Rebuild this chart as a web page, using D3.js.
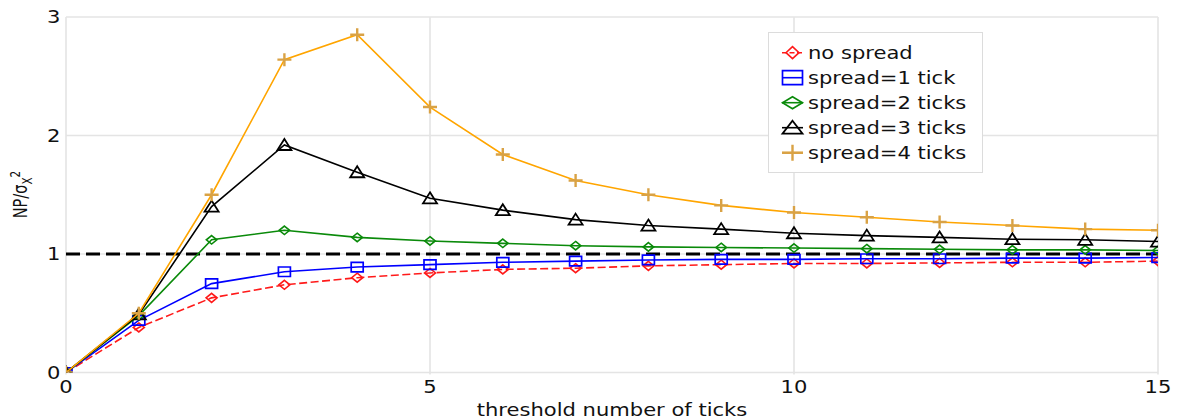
<!DOCTYPE html>
<html>
<head>
<meta charset="utf-8">
<script src="https://cdn.jsdelivr.net/npm/d3@7"></script>
<style>
  html, body { margin: 0; padding: 0; background: #fff; }
  svg { display: block; }
  text { font-family: "DejaVu Sans", Verdana, sans-serif; fill: #111; }
</style>
</head>
<body>
<svg id="chart" width="1184" height="419"></svg>
<script>
// threshold values on the x axis
const thresholds = [0, 1, 2, 3, 4, 5, 6, 7, 8, 9, 10, 11, 12, 13, 14, 15];

// NP / sigma_X^2 for each spread setting
const noSpread = [0, 0.38, 0.63, 0.74, 0.80, 0.84, 0.87, 0.88, 0.90, 0.91, 0.92, 0.92, 0.925, 0.93, 0.93, 0.94];
const spread1  = [0, 0.44, 0.75, 0.85, 0.89, 0.91, 0.93, 0.94, 0.95, 0.955, 0.955, 0.96, 0.96, 0.965, 0.965, 0.97];
const spread2  = [0, 0.48, 1.12, 1.20, 1.14, 1.11, 1.09, 1.07, 1.06, 1.055, 1.05, 1.045, 1.04, 1.035, 1.035, 1.03];
const spread3  = [0, 0.49, 1.40, 1.92, 1.69, 1.47, 1.37, 1.29, 1.24, 1.21, 1.175, 1.155, 1.14, 1.125, 1.12, 1.105];
const spread4  = [0, 0.50, 1.50, 2.64, 2.85, 2.24, 1.84, 1.62, 1.50, 1.41, 1.35, 1.31, 1.27, 1.24, 1.21, 1.20];

const seriesNames = ["no spread", "spread=1 tick", "spread=2 ticks", "spread=3 ticks", "spread=4 ticks"];
const referenceLevel = 1;

const xTicks = [0, 5, 10, 15];
const yTicks = [0, 1, 2, 3];
const xTitle = "threshold number of ticks";

// ---- styling ----
const styles = [
  { line: "#ff1a1a", marker: "#ff1a1a", dash: "8,3.5", shape: "diamond", w: 11, h: 9,  lw: 1.6, mw: 1.6,
    legend: { w: 13, h: 12 } },
  { line: "#0000ff", marker: "#0000ff", dash: null, shape: "square", w: 12, h: 9.5, lw: 1.6, mw: 1.7,
    legend: { w: 20, h: 14 } },
  { line: "#0a8a0a", marker: "#0a8a0a", dash: null, shape: "diamond", w: 10.5, h: 8.5, lw: 1.6, mw: 1.6,
    legend: { w: 20, h: 12 } },
  { line: "#000000", marker: "#000000", dash: null, shape: "triangle", w: 14, h: 10, lw: 1.6, mw: 1.8,
    legend: { w: 20, h: 12 } },
  { line: "#ffa500", marker: "#d9a245", dash: null, shape: "plus", w: 14, h: 13, lw: 1.6, mw: 2.4,
    legend: { w: 21, h: 16 } }
];
const seriesValues = [noSpread, spread1, spread2, spread3, spread4];

const TEXT_STRETCH = 1.24;   // glyphs are drawn horizontally widened
const FONT = 17;

const svg = d3.select("#chart");
const plot = { left: 66, right: 1158, top: 17, bottom: 372.5 };

const x = d3.scaleLinear().domain([0, 15]).range([plot.left, plot.right]);
const y = d3.scaleLinear().domain([0, 3]).range([plot.bottom, plot.top]);

function markerPath(shape, w, h) {
  const p = d3.path(), a = w / 2, b = h / 2;
  if (shape === "diamond") {
    p.moveTo(0, -b); p.lineTo(a, 0); p.lineTo(0, b); p.lineTo(-a, 0); p.closePath();
  } else if (shape === "square") {
    p.rect(-a, -b, w, h);
  } else if (shape === "triangle") {
    p.moveTo(0, -b - 1); p.lineTo(a, b); p.lineTo(-a, b); p.closePath();
  } else if (shape === "plus") {
    p.moveTo(-a, 0); p.lineTo(a, 0); p.moveTo(0, -b); p.lineTo(0, b);
  }
  return p.toString();
}

function stretchedText(parent, px, py, str, anchor, size) {
  return parent.append("text")
    .attr("transform", `translate(${px},${py}) scale(${TEXT_STRETCH},1)`)
    .attr("text-anchor", anchor)
    .attr("font-size", size)
    .text(str);
}

// ---- grid ----
const grid = svg.append("g").attr("stroke", "#e4e4e4").attr("stroke-width", 1.6);
grid.selectAll("line.gx").data(xTicks).join("line")
  .attr("x1", d => x(d)).attr("x2", d => x(d))
  .attr("y1", plot.top).attr("y2", plot.bottom + 2);
grid.selectAll("line.gy").data(yTicks).join("line")
  .attr("x1", plot.left).attr("x2", plot.right)
  .attr("y1", d => y(d)).attr("y2", d => y(d))
  .attr("stroke-width", 1.3);

// ---- tick labels ----
const xLab = svg.append("g");
xTicks.forEach(t => stretchedText(xLab, x(t), 393, String(t), "middle", FONT));
const yLab = svg.append("g");
yTicks.forEach(t => stretchedText(yLab, 60.5, y(t), String(t), "end", FONT).attr("dy", "0.36em"));

// ---- axis titles ----
stretchedText(svg, (plot.left + plot.right) / 2, 416, xTitle, "middle", FONT);

const yTitle = svg.append("text")
  .attr("transform", `translate(27,194.5) rotate(-90) scale(1,1.32)`)
  .attr("text-anchor", "middle")
  .attr("font-size", 14.5);
yTitle.append("tspan").text("NP/σ");
yTitle.append("tspan").attr("font-size", 10.5).attr("dy", 3.6).text("X");
yTitle.append("tspan").attr("font-size", 10.5).attr("dy", -9).text("2");

// ---- data area ----
svg.append("clipPath").attr("id", "plotClip").append("rect")
  .attr("x", plot.left).attr("y", plot.top)
  .attr("width", plot.right - plot.left).attr("height", plot.bottom - plot.top);
const area = svg.append("g").attr("clip-path", "url(#plotClip)");

// reference level
area.append("line")
  .attr("x1", x(0)).attr("x2", x(15))
  .attr("y1", y(referenceLevel)).attr("y2", y(referenceLevel))
  .attr("stroke", "#000").attr("stroke-width", 3).attr("stroke-dasharray", "14,6");

const lineGen = d3.line().x(d => x(d[0])).y(d => y(d[1]));

seriesValues.forEach((vals, i) => {
  const st = styles[i];
  const pts = thresholds.map((t, k) => [t, vals[k]]);
  const g = area.append("g");
  g.append("path").datum(pts)
    .attr("d", lineGen)
    .attr("fill", "none")
    .attr("stroke", st.line)
    .attr("stroke-width", st.lw)
    .attr("stroke-dasharray", st.dash);
  g.selectAll("path.m").data(pts).join("path")
    .attr("class", "m")
    .attr("transform", d => `translate(${x(d[0])},${y(d[1])})`)
    .attr("d", markerPath(st.shape, st.w, st.h))
    .attr("fill", "none")
    .attr("stroke", st.marker)
    .attr("stroke-width", st.mw);
});

// ---- legend ----
const legend = svg.append("g");
legend.append("rect")
  .attr("x", 768.5).attr("y", 32.5).attr("width", 214).attr("height", 140)
  .attr("fill", "#fff").attr("stroke", "#dcdcdc").attr("stroke-width", 1);
seriesNames.forEach((name, i) => {
  const st = styles[i];
  const cy = 52.7 + i * 25;
  legend.append("line")
    .attr("x1", 782).attr("x2", 803).attr("y1", cy).attr("y2", cy)
    .attr("stroke", st.line).attr("stroke-width", st.lw)
    .attr("stroke-dasharray", st.dash ? "5,2.5" : null);
  legend.append("path")
    .attr("transform", `translate(792.5,${cy})`)
    .attr("d", markerPath(st.shape, st.legend.w, st.legend.h))
    .attr("fill", "none")
    .attr("stroke", st.marker)
    .attr("stroke-width", st.mw);
  stretchedText(legend, 808, cy, name, "start", FONT).attr("dy", "0.35em");
});
</script>
</body>
</html>
